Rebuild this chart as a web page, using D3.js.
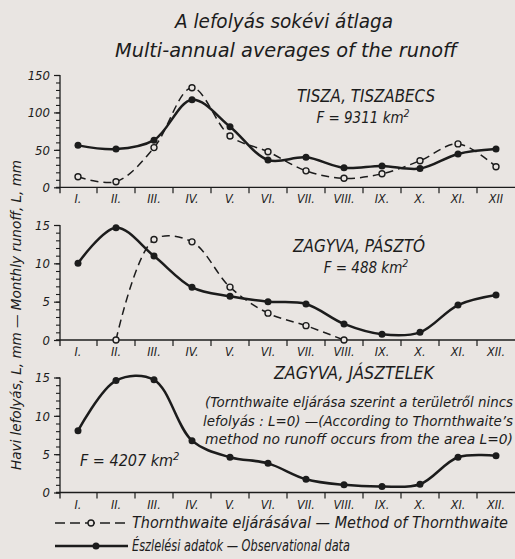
<!DOCTYPE html>
<html>
<head>
<meta charset="utf-8">
<script src="https://cdn.jsdelivr.net/npm/d3@7"></script>
<style>
  html, body { margin: 0; padding: 0; background: #e9e5e2; }
  svg { display: block; }
  text { font-family: 'DejaVu Sans Condensed', 'DejaVu Sans', sans-serif; font-style: italic; fill: #1c1c1c; }
</style>
</head>
<body>
<svg width="515" height="559"></svg>
<script>
// month labels (top panel has "XII" without a dot, as in the original)
const months = ['I.', 'II.', 'III.', 'IV.', 'V.', 'VI.', 'VII.', 'VIII.', 'IX.', 'X.', 'XI.', 'XII.'];
const monthsTop = ['I.', 'II.', 'III.', 'IV.', 'V.', 'VI.', 'VII.', 'VIII.', 'IX.', 'X.', 'XI.', 'XII'];

// Tisza, Tiszabecs (mm)
const tiszaObs = [56, 51, 63, 117, 81, 36.5, 40, 26, 28.5, 25, 44.5, 51];
const tiszaThorn = [14, 7.5, 53, 133, 68.5, 47.5, 22, 12, 18, 35.5, 58, 27.5];
const tiszaTicks = [0, 50, 100, 150];

// Zagyva, Pászto (mm)
const pasztoObs = [10, 14.65, 10.95, 6.87, 5.7, 5.0, 4.7, 2.1, 0.75, 1.0, 4.56, 5.87];
const pasztoThorn = [null, 0, 13.1, 12.8, 6.9, 3.5, 1.87, 0, null, null, null, null];

// Zagyva, Jásztelek (mm)
const jasztelekObs = [8.06, 14.6, 14.7, 6.76, 4.6, 3.8, 1.73, 1.0, 0.78, 1.08, 4.6, 4.8];
const smallTicks = [0, 5, 10, 15];

const svg = d3.select('svg');
const ink = '#1c1c1c';
const bg = '#e9e5e2';

const x = d3.scaleBand().domain(d3.range(12)).range([59, 515]);
const cx = i => x(i) + x.bandwidth() / 2;

const drawPanel = cfg => {
    const y = d3.scaleLinear().domain([0, cfg.max]).range([cfg.bottom, cfg.top]);
    const g = svg.append('g');

    // minor ticks
    g.append('g')
        .attr('transform', 'translate(60,0)')
        .call(d3.axisLeft(y).tickValues(d3.range(0, cfg.max + 0.001, cfg.minor)).tickSize(4).tickFormat(''))
        .call(a => a.select('.domain').remove())
        .call(a => a.selectAll('line').attr('stroke', ink).attr('stroke-width', 1.1));

    // major ticks + labels
    g.append('g')
        .attr('transform', 'translate(60,0)')
        .call(d3.axisLeft(y).tickValues(cfg.ticks).tickSize(6).tickPadding(4))
        .call(a => a.select('.domain').remove())
        .call(a => a.selectAll('line').attr('stroke', ink).attr('stroke-width', 1.2))
        .call(a => a.selectAll('text')
            .attr('font-size', 13)
            .attr('font-family', null)
            .attr('fill', ink));

    // axis lines
    g.append('line')
        .attr('x1', 60).attr('x2', 60)
        .attr('y1', y(cfg.max)).attr('y2', y(0) + 6)
        .attr('stroke', ink).attr('stroke-width', 1.3);
    g.append('line')
        .attr('x1', 56).attr('x2', 515)
        .attr('y1', y(0)).attr('y2', y(0))
        .attr('stroke', ink).attr('stroke-width', 1.3);

    // month boundary ticks
    g.selectAll('.mtick')
        .data(d3.range(1, 12))
        .enter().append('line')
        .attr('x1', d => x(d)).attr('x2', d => x(d))
        .attr('y1', y(0)).attr('y2', y(0) + 6)
        .attr('stroke', ink).attr('stroke-width', 1.2);

    g.selectAll('.mlabel')
        .data(cfg.labels)
        .enter().append('text')
        .attr('x', (d, i) => cx(i))
        .attr('y', y(0) + 16)
        .attr('text-anchor', 'middle')
        .attr('font-size', 12.5)
        .text(d => d);

    const line = d3.line()
        .x((d, i) => cx(i))
        .y(d => y(d))
        .curve(d3.curveCatmullRom.alpha(0.5));

    if (cfg.thorn) {
        const pts = cfg.thorn.map((d, i) => [i, d]).filter(p => p[1] != null);
        g.append('path')
            .attr('d', d3.line().x(p => cx(p[0])).y(p => y(p[1])).curve(d3.curveCatmullRom.alpha(0.5))(pts))
            .attr('fill', 'none')
            .attr('stroke', ink)
            .attr('stroke-width', 1.5)
            .attr('stroke-dasharray', '8,5');
        g.selectAll('.tdot')
            .data(pts)
            .enter().append('circle')
            .attr('cx', p => cx(p[0]))
            .attr('cy', p => y(p[1]))
            .attr('r', 3)
            .attr('fill', bg)
            .attr('stroke', ink)
            .attr('stroke-width', 1.4);
    }

    g.append('path')
        .attr('d', line(cfg.obs))
        .attr('fill', 'none')
        .attr('stroke', ink)
        .attr('stroke-width', 2.5);
    g.selectAll('.odot')
        .data(cfg.obs)
        .enter().append('circle')
        .attr('cx', (d, i) => cx(i))
        .attr('cy', d => y(d))
        .attr('r', 3.5)
        .attr('fill', ink);
};

drawPanel({ max: 150, minor: 10, ticks: tiszaTicks, top: 75, bottom: 187.3, labels: monthsTop, obs: tiszaObs, thorn: tiszaThorn });
drawPanel({ max: 15, minor: 1, ticks: smallTicks, top: 225, bottom: 340, labels: months, obs: pasztoObs, thorn: pasztoThorn });
drawPanel({ max: 15, minor: 1, ticks: smallTicks, top: 377.5, bottom: 492.5, labels: months, obs: jasztelekObs });

// titles
const txt = (str, px, py, size, len, anchor) => {
    const t = svg.append('text')
        .attr('x', px).attr('y', py)
        .attr('font-size', size)
        .attr('text-anchor', anchor || 'middle')
        .text(str);
    if (len) t.attr('textLength', len).attr('lengthAdjust', 'spacingAndGlyphs');
    return t;
};

txt('A lefolyás sokévi átlaga', 284, 28, 20, 218);
txt('Multi-annual averages of the runoff', 286, 57, 20, 342);

txt('TISZA, TISZABECS', 366, 102, 18, 138);
txt('ZAGYVA, PÁSZTÓ', 359, 252, 18, 132);
txt('ZAGYVA, JÁSZTELEK', 354, 379, 18, 160);

const area = (str, px, py, size, anchor) => {
    const t = svg.append('text')
        .attr('x', px).attr('y', py)
        .attr('font-size', size)
        .attr('text-anchor', anchor || 'middle');
    t.append('tspan').text(str);
    t.append('tspan').attr('dy', -6).attr('font-size', size * 0.7).text('2');
};
area('F = 9311 km', 363, 123, 15);
area('F = 488 km', 366, 273, 15);
area('F = 4207 km', 80, 466, 16, 'start');

txt('(Tornthwaite eljárása szerint a területről nincs', 513, 407, 13.5, 308, 'end');
txt('lefolyás : L=0) —(According to Thornthwaite\u2019s', 513, 425.5, 13.5, 310, 'end');
txt('method no runoff occurs from the area L=0)', 513, 444, 13.5, 308, 'end');

// y axis label
svg.append('text')
    .attr('transform', 'translate(21,315) rotate(-90)')
    .attr('text-anchor', 'middle')
    .attr('font-size', 14)
    .attr('textLength', 310)
    .attr('lengthAdjust', 'spacingAndGlyphs')
    .text('Havi lefolyás, L, mm — Monthly runoff, L, mm');

// legend
svg.append('line')
    .attr('x1', 55).attr('x2', 128).attr('y1', 523).attr('y2', 523)
    .attr('stroke', ink).attr('stroke-width', 1.6).attr('stroke-dasharray', '10,5');
svg.append('circle')
    .attr('cx', 91).attr('cy', 523).attr('r', 3)
    .attr('fill', bg).attr('stroke', ink).attr('stroke-width', 1.4);
svg.append('line')
    .attr('x1', 55).attr('x2', 128).attr('y1', 546).attr('y2', 546)
    .attr('stroke', ink).attr('stroke-width', 2.5);
svg.append('circle')
    .attr('cx', 96).attr('cy', 546).attr('r', 3.5)
    .attr('fill', ink);

txt('Thornthwaite eljárásával — Method of Thornthwaite', 132, 528, 15, 376, 'start');
txt('Észlelési adatok — Observational data', 132, 551, 15, 218, 'start');
</script>
</body>
</html>
